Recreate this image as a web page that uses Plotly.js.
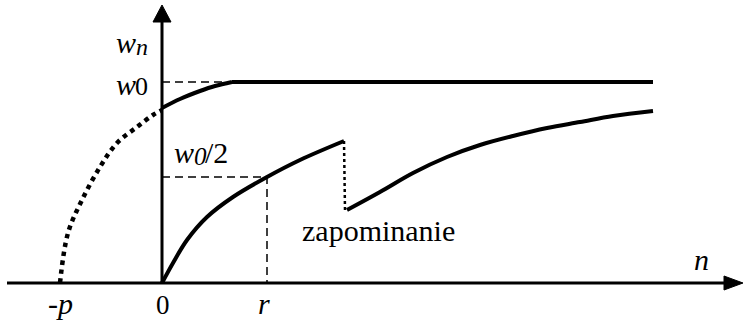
<!DOCTYPE html>
<html>
<head>
<meta charset="utf-8">
<script src="https://cdn.plot.ly/plotly-3.0.1.min.js"></script>
<style>
html,body{margin:0;padding:0;background:#fff;}
#chart{width:743px;height:320px;}
#chart text, #chart tspan { font-family: "Liberation Serif", "Times New Roman", serif !important; }
</style>
</head>
<body>
<div id="chart"></div>
<script>
// Data (origin at the axes crossing, units ~ px)
const extrapX = [-102, -94, -80, -62, -45, -25, -9, 0];
const extrapY = [0, 50, 83, 116, 140, 156, 168, 173];

const riseX = [0, 18, 38, 53, 70];
const riseY = [175, 184, 192, 197, 201];

const plateauX = [70, 491];
const plateauY = [201, 201];

const w0RefX = [0, 70];
const w0RefY = [201, 201];

const learnX = [0, 11, 25, 45, 71, 105, 138, 182];
const learnY = [0, 20, 43, 66, 86, 106, 123, 142];

const forgetX = [182, 183];
const forgetY = [142, 73];

const relearnX = [185, 218, 251, 285, 318, 351, 385, 418, 451, 491];
const relearnY = [73, 91, 110, 126, 138, 147, 155, 161, 167, 172];

const halfRefX = [0, 105, 105];
const halfRefY = [106, 106, 0];

// Text pieces (plain text, no markup): text, x, y, size, style
const labelText  = ['-p', '0', 'r', 'w', 'n', 'w', '0', 'w', '0', '/2', 'zapominanie', 'n'];
const labelX     = [-102, 0.5, 101.5, -36, -20, -36, -20.5, 22, 38, 54, 216, 539];
const labelY     = [-20.5, -22, -20.5, 240.5, 236.5, 198.5, 196.5, 131, 127, 130.5, 53, 23.5];
const labelSize  = [30, 27, 30, 30, 24, 30, 26, 30, 25, 30, 30, 30];
const labelStyle = ['italic', 'normal', 'italic', 'italic', 'italic', 'italic', 'normal', 'italic', 'italic', 'normal', 'normal', 'italic'];

const SERIF = 'Liberation Serif';
const INK = '#000';

const traces = [
  {x: extrapX, y: extrapY, mode: 'lines', line: {color: INK, width: 4.5, dash: 'dot', shape: 'spline'}},
  {x: riseX, y: riseY, mode: 'lines', line: {color: INK, width: 4, shape: 'spline'}},
  {x: plateauX, y: plateauY, mode: 'lines', line: {color: INK, width: 4}},
  {x: w0RefX, y: w0RefY, mode: 'lines', line: {color: INK, width: 1.5, dash: '8px,5px'}},
  {x: halfRefX, y: halfRefY, mode: 'lines', line: {color: INK, width: 1.5, dash: '8px,5px'}},
  {x: learnX, y: learnY, mode: 'lines', line: {color: INK, width: 4, shape: 'spline'}},
  {x: forgetX, y: forgetY, mode: 'lines', line: {color: INK, width: 2.5, dash: 'dot'}},
  {x: relearnX, y: relearnY, mode: 'lines', line: {color: INK, width: 4, shape: 'spline'}}
];

const annotations = labelText.map((t, i) => ({
  x: labelX[i], y: labelY[i], xref: 'x', yref: 'y', text: t, showarrow: false,
  font: {family: SERIF, size: labelSize[i], color: INK, style: labelStyle[i]}
}));

const shapes = [
  // x axis
  {type: 'line', xref: 'x', yref: 'y', x0: -155, y0: 0, x1: 566, y1: 0, line: {color: INK, width: 3}},
  {type: 'path', xref: 'x', yref: 'y', path: 'M 562 7 L 581 0 L 562 -7 Z', fillcolor: INK, line: {color: INK, width: 1}},
  // y axis
  {type: 'line', xref: 'x', yref: 'y', x0: 0, y0: 0, x1: 0, y1: 264, line: {color: INK, width: 3}},
  {type: 'path', xref: 'x', yref: 'y', path: 'M -9 261 L 0 278 L 9 261 Z', fillcolor: INK, line: {color: INK, width: 1}}
];

const layout = {
  width: 743, height: 320,
  margin: {l: 0, r: 0, t: 0, b: 0},
  showlegend: false,
  xaxis: {range: [-162, 581], visible: false},
  yaxis: {range: [-37, 283], visible: false},
  annotations: annotations,
  shapes: shapes
};

Plotly.newPlot('chart', traces, layout, {staticPlot: true});
</script>
</body>
</html>
